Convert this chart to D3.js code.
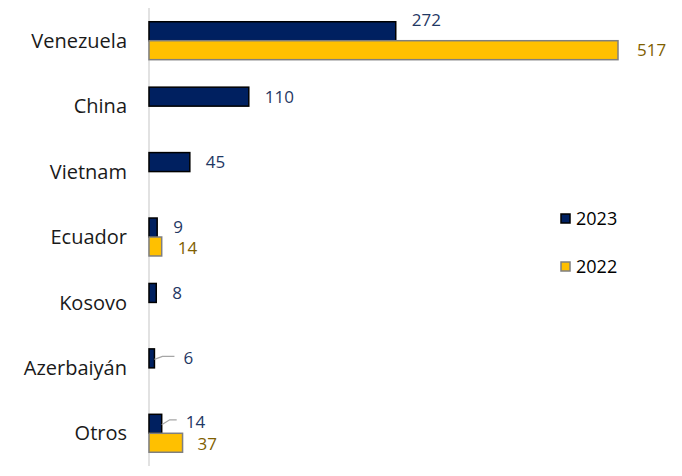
<!DOCTYPE html>
<html>
<head>
<meta charset="utf-8">
<script src="https://cdn.jsdelivr.net/npm/d3@7"></script>
<style>
  body { margin: 0; background: #fff; }
  text { font-family: "Open Sans", sans-serif; }
</style>
</head>
<body>
<div id="container"></div>
<script>
var categories = ["Venezuela", "China", "Vietnam", "Ecuador", "Kosovo", "Azerbaiyán", "Otros"];
var values2023 = [272, 110, 45, 9, 8, 6, 14];
var values2022 = [517, null, null, 14, null, null, 37];
var seriesNames = ["2023", "2022"];

let width = 682;
let height = 476;
var svg = d3.select("#container").append("svg")
  .attr("width", width).attr("height", height);

var x0 = 149;
var x = d3.scaleLinear().domain([0, 517]).range([x0, 618]);
var y = d3.scaleBand().domain(categories).range([8, 466]).paddingInner(0.42).paddingOuter(0.21);
var ySub = d3.scaleBand().domain(seriesNames).range([0, y.bandwidth()]);

var fills = { "2023": "#002060", "2022": "#FFC000" };
var strokes = { "2023": "#000000", "2022": "#7f7f7f" };
var labelColors = { "2023": "#1f3864", "2022": "#7f6000" };

var rows = [];
categories.forEach(function(c, i) {
  rows.push({ cat: c, s: "2023", v: values2023[i] });
  if (values2022[i] != null) rows.push({ cat: c, s: "2022", v: values2022[i] });
});

// axis line
svg.append("line")
  .attr("x1", x0).attr("x2", x0)
  .attr("y1", 8).attr("y2", 466)
  .attr("stroke", "#d9d9d9").attr("stroke-width", 1.5);

svg.append("g").selectAll("rect")
  .data(rows).enter().append("rect")
  .attr("x", x0)
  .attr("y", function(d) { return y(d.cat) + ySub(d.s); })
  .attr("width", function(d) { return x(d.v) - x0; })
  .attr("height", ySub.bandwidth())
  .attr("fill", function(d) { return fills[d.s]; })
  .attr("stroke", function(d) { return strokes[d.s]; })
  .attr("stroke-width", 1.5);

// label placement tweaks (Excel moved some labels)
function labelPos(d) {
  var bx = x(d.v);
  var cy = y(d.cat) + ySub(d.s) + ySub.bandwidth() / 2;
  var lx = bx + 16, ly = cy, lead = false;
  if (d.cat == "Venezuela" && d.s == "2023") { ly = cy - 11; }
  if (d.cat == "Venezuela" && d.s == "2022") { lx = bx + 19; }
  if (d.cat == "Ecuador" && d.s == "2023") { ly = cy - 1; }
  if (d.cat == "Ecuador" && d.s == "2022") { ly = cy + 1; }
  if (d.cat == "Azerbaiyán") { lx = bx + 29; lead = true; }
  if (d.cat == "Otros" && d.s == "2023") { lx = bx + 24; ly = cy - 2; lead = true; }
  if (d.cat == "Otros" && d.s == "2022") { lx = bx + 15; ly = cy + 1; }
  return { x: lx, y: ly, bx: bx, cy: cy, lead: lead };
}

var labels = svg.append("g");
rows.forEach(function(d) {
  var p = labelPos(d);
  if (p.lead) {
    labels.append("polyline")
      .attr("points", [[p.bx, p.cy + 1], [p.bx + 8, p.y - 2], [p.x - 9, p.y - 2]].join(" "))
      .attr("fill", "none").attr("stroke", "#a6a6a6").attr("stroke-width", 1.2);
  }
  labels.append("text")
    .attr("x", p.x).attr("y", p.y)
    .attr("dy", "0.36em")
    .attr("font-size", 17)
    .attr("fill", labelColors[d.s])
    .text(d.v);
});

// category labels
svg.append("g").selectAll("text")
  .data(categories).enter().append("text")
  .attr("x", 127)
  .attr("y", function(d) { return y(d) + y.bandwidth() / 2; })
  .attr("dy", "0.36em")
  .attr("text-anchor", "end")
  .attr("font-size", 20)
  .attr("fill", "#1a1a1a")
  .text(function(d) { return d; });

// legend
var legend = svg.append("g").selectAll("g")
  .data(seriesNames).enter().append("g")
  .attr("transform", function(d, i) { return "translate(561," + (214 + i * 48) + ")"; });
legend.append("rect")
  .attr("width", 9).attr("height", 9)
  .attr("fill", function(d) { return fills[d]; })
  .attr("stroke", function(d) { return strokes[d]; })
  .attr("stroke-width", 1.5);
legend.append("text")
  .attr("x", 15).attr("y", 5)
  .attr("dy", "0.36em")
  .attr("font-size", 18)
  .attr("fill", "#000")
  .text(function(d) { return d; });
</script>
</body>
</html>
